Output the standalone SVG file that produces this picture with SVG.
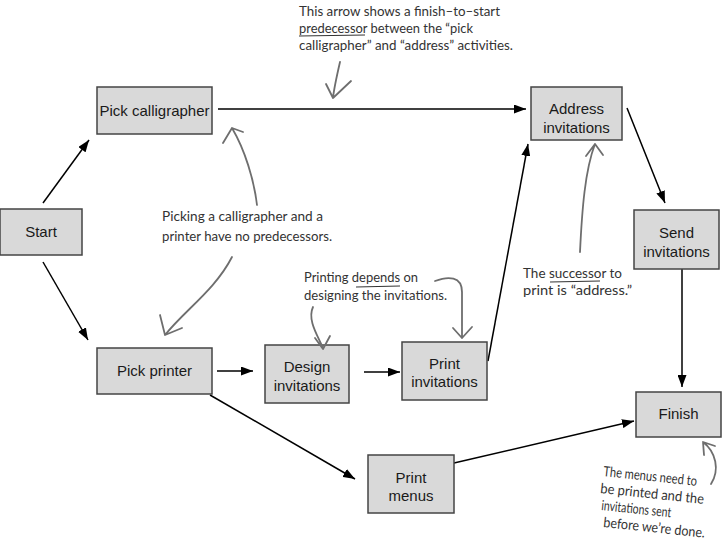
<svg xmlns="http://www.w3.org/2000/svg" width="722" height="547" viewBox="0 0 722 547">
<style>
.box{fill:#d9d9d9;stroke:#444;stroke-width:1.5}
.lbl{font-family:"Liberation Sans",Arial,sans-serif;font-size:15px;fill:#1a1a1a;text-anchor:middle}
.con{stroke:#000;stroke-width:1.5;fill:none;marker-end:url(#ah)}
.note{font-family:Lato,"Open Sans",sans-serif;font-size:14px;fill:#333}
.nar{stroke:#6e6e6e;stroke-width:1.8;fill:none;stroke-linecap:round;stroke-linejoin:round}
.ul{stroke:#333;stroke-width:1.2;fill:none}
</style>
<defs>
<marker id="ah" markerUnits="userSpaceOnUse" markerWidth="13" markerHeight="9" refX="12" refY="4.5" orient="auto">
<path d="M0,0 L12,4.5 L0,9 z" fill="#000"/>
</marker>
</defs>
<rect width="722" height="547" fill="#fff"/>

<g id="connectors">
<path class="con" d="M43,203 L89,140"/>
<path class="con" d="M43,262 L88,340"/>
<path class="con" d="M218,109 L526,109"/>
<path class="con" d="M217,371 L253,371"/>
<path class="con" d="M364,372 L400,372"/>
<path class="con" d="M488,361 L528,144"/>
<path class="con" d="M627,108 L665,203"/>
<path class="con" d="M682,269 L682,387"/>
<path class="con" d="M210,395 L355,479"/>
<path class="con" d="M454,463 L634,421"/>
</g>

<g id="start"><rect class="box" x="0" y="209" width="82" height="46"/><text class="lbl" x="41" y="237">Start</text></g>
<g id="pick-calligrapher"><rect class="box" x="97" y="87" width="115" height="47"/><text class="lbl" x="154.5" y="116">Pick calligrapher</text></g>
<g id="pick-printer"><rect class="box" x="97" y="348" width="115" height="46"/><text class="lbl" x="154.5" y="376">Pick printer</text></g>
<g id="design-invitations"><rect class="box" x="265" y="345" width="84" height="58"/><text class="lbl" x="307" y="372">Design</text><text class="lbl" x="307" y="391">invitations</text></g>
<g id="print-invitations"><rect class="box" x="402" y="342" width="85" height="58"/><text class="lbl" x="444.5" y="369">Print</text><text class="lbl" x="444.5" y="387">invitations</text></g>
<g id="address-invitations"><rect class="box" x="531" y="87" width="91" height="53"/><text class="lbl" x="576.5" y="114">Address</text><text class="lbl" x="576.5" y="133">invitations</text></g>
<g id="send-invitations"><rect class="box" x="634" y="210" width="85" height="59"/><text class="lbl" x="676.5" y="238">Send</text><text class="lbl" x="676.5" y="257">invitations</text></g>
<g id="print-menus"><rect class="box" x="368" y="455" width="86" height="58"/><text class="lbl" x="411" y="483">Print</text><text class="lbl" x="411" y="501">menus</text></g>
<g id="finish"><rect class="box" x="636" y="392" width="85" height="45"/><text class="lbl" x="678.5" y="419">Finish</text></g>

<g id="annotations">
<text class="note" x="299" y="16" textLength="201" lengthAdjust="spacingAndGlyphs">This arrow shows a finish–to–start</text>
<text class="note" x="299" y="33" textLength="174" lengthAdjust="spacingAndGlyphs">predecessor between the “pick</text>
<text class="note" x="299" y="50" textLength="214" lengthAdjust="spacingAndGlyphs">calligrapher” and “address” activities.</text>
<path class="ul" d="M299,36 L365,35"/>
<path class="nar" d="M340,62 C337,75 334,88 333,98 M326,84 L333,98 L351,81"/>

<text class="note" x="162" y="221" textLength="161" lengthAdjust="spacingAndGlyphs">Picking a calligrapher and a</text>
<text class="note" x="162" y="241" textLength="170" lengthAdjust="spacingAndGlyphs">printer have no predecessors.</text>
<path class="nar" d="M257,205 C254,180 245,150 232,128 M223,143 L232,128 L243,132"/>
<path class="nar" d="M232,257 C215,290 185,310 165,335 M160,315 L165,335 L182,328"/>

<text class="note" x="304" y="282" textLength="114" lengthAdjust="spacingAndGlyphs">Printing depends on</text>
<text class="note" x="304" y="300" textLength="143" lengthAdjust="spacingAndGlyphs">designing the invitations.</text>
<path class="ul" d="M356,287 L400,286"/>
<path class="nar" d="M313,307 C307,320 318,336 323,348 M315,338 L323,349 L330,336"/>
<path class="nar" d="M435,281 C448,276 462,276 462,292 L462,338 M453,328 L462,338 L472,327"/>

<text class="note" x="523" y="278" textLength="99" lengthAdjust="spacingAndGlyphs">The successor to</text>
<text class="note" x="523" y="295" textLength="109" lengthAdjust="spacingAndGlyphs">print is “address.”</text>
<path class="ul" d="M550,282 L600,281"/>
<path class="nar" d="M580,252 C582,210 585,170 595,144 M586,156 L595,144 L603,155"/>

<text class="note" x="603" y="476" transform="rotate(6 603 476)" textLength="94" lengthAdjust="spacingAndGlyphs">The menus need to</text>
<text class="note" x="600" y="493" transform="rotate(6 600 493)" textLength="104" lengthAdjust="spacingAndGlyphs">be printed and the</text>
<text class="note" x="601" y="510" transform="rotate(6 601 510)" textLength="70" lengthAdjust="spacingAndGlyphs">invitations sent</text>
<text class="note" x="603" y="527" transform="rotate(6 603 527)" textLength="102" lengthAdjust="spacingAndGlyphs">before we’re done.</text>
<path class="nar" d="M711,484 C720,470 716,452 703,442 M704,455 L703,442 L715,446"/>
</g>
</svg>
